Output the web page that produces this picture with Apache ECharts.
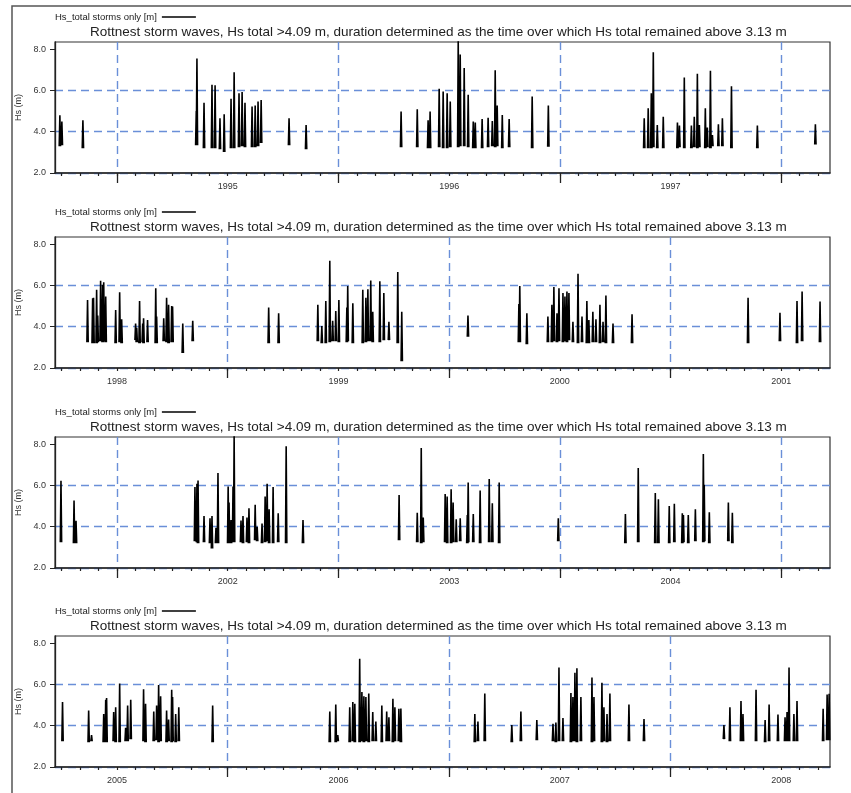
<!DOCTYPE html>
<html><head><meta charset="utf-8">
<script src="https://cdn.jsdelivr.net/npm/echarts@6/dist/echarts.min.js"></script>
<style>html,body{margin:0;padding:0;background:#fff}#c{width:851px;height:793px}</style>
</head><body><div id="c"></div>
<script>
// ---------------- data ----------------
const seriesName = 'Hs_total storms only [m]';
const titleText = 'Rottnest storm waves, Hs total >4.09 m, duration determined as the time over which Hs total remained above 3.13 m';
const yAxisName = 'Hs (m)';
const panelStart = [1994.72, 1998.22, 2001.72, 2005.22]; // decimal years
const panelSpan = 3.5;
const yTicks = [2, 4, 6, 8];

// each storm: [time (decimal year), peak Hs (m), lowest Hs at storm edges (m)]
const storms1994to1998 = [
  [1994.742,4.80,3.30],[1994.751,4.50,3.35],[1994.846,4.55,3.20],[1995.358,5.00,3.35],[1995.361,7.55,3.35],
  [1995.393,5.40,3.20],[1995.429,6.28,3.20],[1995.443,6.25,3.20],[1995.465,4.65,3.15],[1995.484,4.85,3.02],
  [1995.515,5.60,3.20],[1995.529,6.88,3.20],[1995.551,5.87,3.25],[1995.565,5.92,3.30],[1995.578,5.41,3.25],
  [1995.610,5.22,3.25],[1995.624,5.27,3.25],[1995.637,5.46,3.30],[1995.651,5.54,3.45],[1995.777,4.65,3.35],
  [1995.854,4.33,3.15],[1996.283,4.98,3.25],[1996.356,5.09,3.25],[1996.405,4.55,3.20],[1996.414,4.98,3.20],
  [1996.455,6.08,3.25],[1996.473,5.95,3.20],[1996.491,5.87,3.20],[1996.505,5.46,3.25],[1996.541,8.40,3.25],
  [1996.550,7.74,3.30],[1996.568,7.09,3.30],[1996.586,5.79,3.25],[1996.609,4.49,3.20],[1996.618,4.45,3.20],
  [1996.649,4.62,3.20],[1996.676,4.68,3.25],[1996.695,4.52,3.30],[1996.708,6.98,3.25],[1996.717,5.27,3.30],
  [1996.740,4.81,3.20],[1996.771,4.62,3.25],[1996.875,5.71,3.20],[1996.948,5.27,3.27],[1997.381,4.65,3.20],
  [1997.399,5.14,3.20],[1997.413,5.87,3.20],[1997.422,7.85,3.25],[1997.440,4.33,3.20],[1997.467,4.73,3.20],
  [1997.531,4.45,3.20],[1997.540,4.30,3.25],[1997.562,6.63,3.20],[1997.594,4.30,3.20],[1997.607,4.73,3.25],
  [1997.621,6.81,3.20],[1997.630,4.33,3.25],[1997.657,5.14,3.20],[1997.666,4.20,3.25],[1997.680,6.96,3.20],
  [1997.689,3.84,3.30],[1997.716,4.36,3.30],[1997.734,4.65,3.30],[1997.775,6.20,3.20],[1997.892,4.30,3.20],
  [1998.154,4.36,3.38]
];
const storms1998to2001 = [
  [1998.367,5.30,3.25],[1998.390,5.38,3.20],[1998.394,5.41,3.20],[1998.408,5.79,3.20],[1998.413,4.54,3.25],
  [1998.426,6.23,3.30],[1998.435,6.03,3.25],[1998.440,6.16,3.30],[1998.449,5.46,3.25],[1998.494,4.81,3.20],
  [1998.512,5.67,3.25],[1998.521,4.36,3.20],[1998.584,4.16,3.35],[1998.589,3.95,3.25],[1998.602,5.25,3.20],
  [1998.616,4.16,3.25],[1998.620,4.41,3.20],[1998.638,4.33,3.25],[1998.675,5.87,3.20],[1998.679,4.49,3.20],
  [1998.711,4.41,3.30],[1998.724,5.41,3.25],[1998.733,5.06,3.20],[1998.747,5.01,3.25],[1998.751,4.98,3.25],
  [1998.797,4.16,2.73],[1998.842,4.29,3.30],[1999.185,4.93,3.20],[1999.230,4.65,3.20],[1999.407,5.06,3.30],
  [1999.425,4.03,3.20],[1999.443,5.25,3.20],[1999.461,7.20,3.25],[1999.474,4.29,3.30],[1999.488,4.76,3.30],
  [1999.502,5.30,3.25],[1999.538,4.93,3.25],[1999.542,5.98,3.30],[1999.565,5.14,3.20],[1999.610,5.79,3.20],
  [1999.624,5.41,3.25],[1999.633,5.82,3.30],[1999.646,6.24,3.30],[1999.655,4.73,3.25],[1999.687,6.20,3.25],
  [1999.705,5.63,3.35],[1999.728,4.24,3.35],[1999.768,6.65,3.20],[1999.786,4.73,2.33],[2000.085,4.54,3.51],
  [2000.315,5.10,3.25],[2000.319,5.98,3.25],[2000.351,4.65,3.15],[2000.446,4.49,3.25],[2000.464,5.06,3.25],
  [2000.473,5.92,3.30],[2000.487,4.65,3.25],[2000.496,5.87,3.30],[2000.514,5.63,3.25],[2000.523,5.46,3.30],
  [2000.532,5.71,3.25],[2000.541,5.63,3.35],[2000.559,4.24,3.25],[2000.582,6.57,3.20],[2000.600,4.49,3.25],
  [2000.622,5.25,3.20],[2000.631,4.33,3.20],[2000.649,4.73,3.25],[2000.663,4.36,3.25],[2000.681,5.06,3.20],
  [2000.695,4.24,3.25],[2000.708,5.51,3.20],[2000.740,4.16,3.20],[2000.826,4.60,3.20],[2001.350,5.41,3.20],
  [2001.494,4.68,3.30],[2001.571,5.25,3.20],[2001.594,5.71,3.30],[2001.675,5.22,3.25]
];
const storms2001to2005 = [
  [2001.747,6.23,3.25],[2001.806,5.27,3.20],[2001.815,4.29,3.20],[2002.352,5.92,3.30],[2002.361,6.08,3.25],
  [2002.366,6.24,3.20],[2002.393,4.52,3.25],[2002.420,4.41,3.20],[2002.429,4.52,2.94],[2002.447,3.95,3.20],
  [2002.456,6.60,3.20],[2002.502,5.95,3.20],[2002.506,5.17,3.25],[2002.515,4.33,3.20],[2002.524,5.95,3.25],
  [2002.529,8.40,3.25],[2002.560,4.30,3.25],[2002.569,4.52,3.20],[2002.587,4.45,3.25],[2002.596,4.89,3.20],
  [2002.624,5.06,3.35],[2002.633,4.00,3.30],[2002.655,4.15,3.20],[2002.669,5.46,3.25],[2002.678,6.08,3.30],
  [2002.687,4.85,3.20],[2002.705,5.92,3.20],[2002.728,4.65,3.25],[2002.764,7.90,3.20],[2002.840,4.33,3.20],
  [2003.274,5.54,3.35],[2003.356,4.68,3.25],[2003.374,7.82,3.20],[2003.383,4.45,3.25],[2003.482,5.59,3.25],
  [2003.491,5.46,3.20],[2003.509,5.82,3.20],[2003.518,5.17,3.25],[2003.532,4.36,3.25],[2003.550,4.41,3.30],
  [2003.582,4.57,3.20],[2003.586,6.15,3.25],[2003.609,4.62,3.25],[2003.640,5.76,3.20],[2003.681,6.31,3.25],
  [2003.695,5.14,3.25],[2003.726,6.15,3.20],[2003.993,4.41,3.30],[2004.296,4.62,3.20],[2004.354,6.85,3.25],
  [2004.431,5.63,3.20],[2004.445,5.33,3.20],[2004.494,5.01,3.20],[2004.517,5.11,3.25],[2004.553,4.65,3.20],
  [2004.558,4.57,3.25],[2004.580,4.57,3.20],[2004.612,4.85,3.30],[2004.648,7.53,3.25],[2004.652,6.03,3.30],
  [2004.675,4.70,3.20],[2004.761,5.17,3.30],[2004.779,4.68,3.20]
];
const storms2005to2008 = [
  [2005.254,5.15,3.25],[2005.372,4.74,3.20],[2005.385,3.55,3.25],[2005.440,4.57,3.20],[2005.449,5.26,3.20],
  [2005.453,5.34,3.20],[2005.485,4.66,3.25],[2005.494,4.90,3.20],[2005.512,6.05,3.20],[2005.539,3.90,3.25],
  [2005.548,4.98,3.25],[2005.562,5.26,3.35],[2005.620,5.77,3.25],[2005.629,5.07,3.20],[2005.666,4.69,3.25],
  [2005.679,4.98,3.30],[2005.688,5.97,3.20],[2005.697,5.43,3.25],[2005.724,4.74,3.20],[2005.733,4.30,3.25],
  [2005.747,5.75,3.20],[2005.751,5.39,3.25],[2005.765,4.57,3.20],[2005.779,4.90,3.25],[2005.932,4.98,3.20],
  [2006.461,4.69,3.20],[2006.488,5.03,3.20],[2006.497,3.55,3.25],[2006.551,4.90,3.20],[2006.565,5.15,3.25],
  [2006.574,5.07,3.20],[2006.596,7.25,3.20],[2006.606,5.64,3.25],[2006.615,5.43,3.20],[2006.624,5.39,3.25],
  [2006.637,5.56,3.20],[2006.655,4.66,3.25],[2006.669,4.20,3.25],[2006.696,4.98,3.20],[2006.718,4.69,3.25],
  [2006.728,4.41,3.25],[2006.746,5.31,3.20],[2006.755,4.90,3.25],[2006.773,4.82,3.25],[2006.782,4.84,3.20],
  [2007.116,4.57,3.20],[2007.130,4.20,3.25],[2007.161,5.56,3.25],[2007.283,4.03,3.20],[2007.324,4.69,3.25],
  [2007.396,4.28,3.30],[2007.469,4.10,3.25],[2007.482,4.15,3.20],[2007.496,6.82,3.25],[2007.514,4.38,3.25],
  [2007.550,5.59,3.20],[2007.559,5.39,3.25],[2007.568,6.57,3.25],[2007.577,6.79,3.20],[2007.595,5.39,3.25],
  [2007.645,6.34,3.20],[2007.654,5.39,3.25],[2007.690,6.08,3.20],[2007.699,4.90,3.25],[2007.713,4.57,3.20],
  [2007.726,5.56,3.25],[2007.812,5.03,3.25],[2007.880,4.33,3.25],[2008.241,4.03,3.35],[2008.268,4.90,3.25],
  [2008.318,5.20,3.25],[2008.327,4.57,3.25],[2008.386,5.75,3.25],[2008.427,4.28,3.20],[2008.445,5.03,3.25],
  [2008.485,4.54,3.25],[2008.517,4.41,3.25],[2008.526,4.66,3.25],[2008.535,6.82,3.25],[2008.557,4.57,3.25],
  [2008.571,5.20,3.25],[2008.689,4.82,3.25],[2008.707,5.51,3.30],[2008.716,5.55,3.30]
];
const allStorms = [].concat(storms1994to1998, storms1998to2001, storms2001to2005, storms2005to2008);

// ---------------- layout / style ----------------
const gridTops = [42, 237, 437, 636];
const gridH = 131, gridL = 55, gridR = 21;
const gridBlue = '#6a8fd8';
const fontFam = '"Liberation Sans", Arial, sans-serif';

function panelData(i) {
  const a = panelStart[i], b = a + panelSpan, d = 0.003;
  const out = [];
  allStorms.forEach(([t, pk, lo]) => {
    if (t < a || t > b) return;
    out.push([t - d, lo], [t, pk], [t + d, lo], [t + d, '-']);
  });
  return out;
}
function yearBounds(i) {
  const a = panelStart[i], b = a + panelSpan, r = [];
  for (let y = Math.ceil(a); y <= b; y++) r.push(y);
  return r;
}
function yearMids(i) {
  const a = panelStart[i], b = a + panelSpan, r = [];
  for (let y = Math.floor(a); y <= b; y++) if (y + 0.5 >= a && y + 0.5 <= b) r.push(y + 0.5);
  return r;
}
function monthBounds(i) {
  const a = panelStart[i], b = a + panelSpan, r = [];
  for (let y = Math.floor(a); y <= b; y++) for (let m = 0; m < 12; m++) {
    const v = y + m / 12; if (v >= a && v <= b) r.push(v);
  }
  return r;
}

const grid = [], xAxis = [], yAxis = [], series = [], title = [], legend = [];
for (let i = 0; i < 4; i++) {
  const a = panelStart[i], b = a + panelSpan;
  grid.push({left: gridL, right: gridR, top: gridTops[i], height: gridH, show: true,
    borderColor: '#333', borderWidth: 1.2, backgroundColor: 'transparent'});
  grid.push({left: gridL, right: gridR, top: gridTops[i], height: gridH, show: false});
  xAxis.push({type: 'value', gridIndex: 2 * i, min: a, max: b,
    axisLine: {show: true, onZero: false, lineStyle: {color: '#222', width: 1.5}},
    axisTick: {show: true, customValues: yearBounds(i), length: 10, lineStyle: {color: '#222', width: 1.3}},
    axisLabel: {customValues: yearMids(i), formatter: v => String(Math.floor(v)), fontSize: 9, margin: 9,
      color: '#333', fontFamily: fontFam},
    splitLine: {show: true, lineStyle: {color: gridBlue, type: [8, 5], width: 1.4}}
  });
  xAxis.push({type: 'value', gridIndex: 2 * i + 1, min: a, max: b,
    axisLine: {show: false},
    axisTick: {show: true, customValues: monthBounds(i), length: 3, lineStyle: {color: '#222', width: 1.2}},
    axisLabel: {show: false}, splitLine: {show: false}
  });
  yAxis.push({type: 'value', gridIndex: 2 * i, min: 2, max: 8.35,
    name: yAxisName, nameLocation: 'middle', nameGap: 29,
    nameTextStyle: {fontSize: 9, color: '#333', fontFamily: fontFam},
    axisLine: {show: true, lineStyle: {color: '#222', width: 1.3}},
    axisTick: {show: true, customValues: yTicks, length: 5, lineStyle: {color: '#222'}},
    axisLabel: {customValues: yTicks, formatter: v => v.toFixed(1), fontSize: 9, margin: 9, color: '#333', fontFamily: fontFam},
    splitLine: {show: true, showMaxLine: false, lineStyle: {color: gridBlue, type: [8, 5], width: 1.3}}
  });
  yAxis.push({type: 'value', gridIndex: 2 * i + 1, min: 2, max: 8.35, show: false});
  series.push({type: 'line', name: seriesName, xAxisIndex: 2 * i, yAxisIndex: 2 * i,
    data: panelData(i), symbol: 'none', showSymbol: false, connectNulls: false, clip: true,
    lineStyle: {color: '#000', width: 1.6}, itemStyle: {color: '#000'}, z: 5});
  title.push({text: titleText, left: 85, top: gridTops[i] - 22,
    textStyle: {fontSize: 13.5, fontWeight: 'normal', color: '#222', fontFamily: fontFam}});
  legend.push({data: [{name: seriesName, icon: 'rect'}], left: 50, top: gridTops[i] - 35, align: 'right',
    itemWidth: 34, itemHeight: 1.5, padding: 5,
    itemStyle: {color: '#000', borderWidth: 0},
    textStyle: {fontSize: 9.5, color: '#222', fontFamily: fontFam}});
}

const chart = echarts.init(document.getElementById('c'));
chart.setOption({
  animation: false,
  backgroundColor: '#fff',
  title, legend, grid, xAxis, yAxis, series,
  graphic: [{type: 'polyline', silent: true,
    shape: {points: [[12, 793], [12, 6], [851, 6]]},
    style: {stroke: '#555', lineWidth: 1.5, fill: null}}]
});
</script>
</body></html>
